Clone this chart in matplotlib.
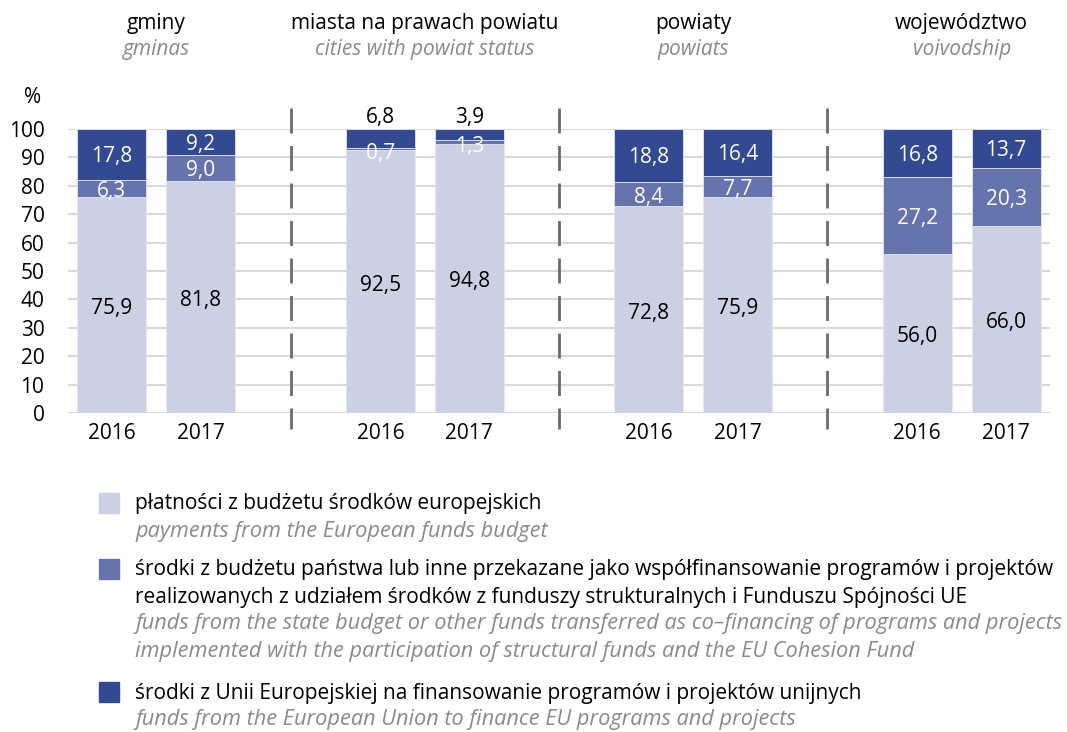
import matplotlib
matplotlib.use('Agg')
import matplotlib.pyplot as plt
from matplotlib.patches import Rectangle
from matplotlib.transforms import blended_transform_factory

plt.rcParams['font.family'] = ['Open Sans', 'DejaVu Sans']

GROUPS_PL = ['gminy', 'miasta na prawach powiatu', 'powiaty', 'województwo']
GROUPS_EN = ['gminas', 'cities with powiat status', 'powiats', 'voivodship']
YEARS = ['2016', '2017']

# shares in %, order: gminy 2016, 2017, miasta 2016, 2017, powiaty ..., wojewodztwo ...
payments_eu_budget = [75.9, 81.8, 92.5, 94.8, 72.8, 75.9, 56.0, 66.0]
state_cofinancing = [6.3, 9.0, 0.7, 1.3, 8.4, 7.7, 27.2, 20.3]
eu_funds = [17.8, 9.2, 6.8, 3.9, 18.8, 16.4, 16.8, 13.7]

LEGEND_PL = [
    ['płatności z budżetu środków europejskich'],
    ['środki z budżetu państwa lub inne przekazane jako współfinansowanie programów i projektów',
     'realizowanych z udziałem środków z funduszy strukturalnych i Funduszu Spójności UE'],
    ['środki z Unii Europejskiej na finansowanie programów i projektów unijnych'],
]
LEGEND_EN = [
    ['payments from the European funds budget'],
    ['funds from the state budget or other funds transferred as co\u2013financing of programs and projects',
     'implemented with the participation of structural funds and the EU Cohesion Fund'],
    ['funds from the European Union to finance EU programs and projects'],
]

LIGHT = '#CBD0E3'
MID = '#6674AD'
DARK = '#334A93'
COLORS = [LIGHT, MID, DARK]
GRID = '#D9D9D9'
SEP = '#6B6B6B'
SUB = '#8A8A8A'
FS = 15
FS_LEG_EN = 15.7
GROUP_STEP = 3.02
BAR_W = 0.775

W, H = 1067, 732
fig = plt.figure(figsize=(W / 100, H / 100), dpi=100)
ax = fig.add_axes([68 / W, 1 - 413 / H, (1050 - 68) / W, (413 - 129) / H])

xs = [g * GROUP_STEP + i for g in range(len(GROUPS_PL)) for i in range(len(YEARS))]

bottom = [0.0] * len(xs)
for series, color in zip([payments_eu_budget, state_cofinancing, eu_funds], COLORS):
    ax.bar(xs, series, width=BAR_W, bottom=bottom, color=color,
           edgecolor='#E4E7F0', linewidth=0.6, zorder=2)
    bottom = [b + v for b, v in zip(bottom, series)]


def fmt(v):
    return f'{v:.1f}'.replace('.', ',')


for x, lo, md, hi in zip(xs, payments_eu_budget, state_cofinancing, eu_funds):
    ax.text(x, lo / 2 - 1.2, fmt(lo), ha='center', va='center', fontsize=FS, color='black', zorder=3)
    if md < 3:
        ax.text(x, lo - 1.0, fmt(md), ha='center', va='center', fontsize=FS, color='white', zorder=3)
    else:
        ax.text(x, lo + md / 2 - 1.0, fmt(md), ha='center', va='center', fontsize=FS, color='white', zorder=3)
    if hi < 8:
        ax.text(x, 100 + 4.0, fmt(hi), ha='center', va='center', fontsize=FS, color='black', zorder=3)
    else:
        ax.text(x, lo + md + hi / 2 - 0.8, fmt(hi), ha='center', va='center', fontsize=FS, color='white', zorder=3)

ax.set_xlim(-0.494, xs[-1] + 0.494)
ax.set_ylim(0, 100)
ax.set_yticks(range(0, 101, 10))
ax.set_xticks(xs)
ax.set_xticklabels(YEARS * len(GROUPS_PL))
ax.tick_params(axis='both', length=0, labelsize=FS)
ax.tick_params(axis='y', pad=17)
ax.tick_params(axis='x', pad=7)
for lab in ax.get_yticklabels():
    lab.set_horizontalalignment('right')
ax.grid(axis='y', color=GRID, linewidth=1.5, zorder=0)
ax.set_axisbelow(True)
for s in ax.spines.values():
    s.set_visible(False)

# separators between groups
for g in range(1, len(GROUPS_PL)):
    xsep = (g - 1) * GROUP_STEP + 1 + (GROUP_STEP - 1) / 2
    ax.plot([xsep, xsep], [107.5, -5.5], color=SEP, linewidth=2.0,
            linestyle=(0, (9, 4.5)), clip_on=False, zorder=1)

ax.text(-0.89, 111.0, '%', ha='center', va='center', fontsize=FS)

# group titles
tr = blended_transform_factory(ax.transData, fig.transFigure)
for g, (pl, en) in enumerate(zip(GROUPS_PL, GROUPS_EN)):
    xc = g * GROUP_STEP + 0.5
    ax.text(xc, 1 - 23 / H, pl, transform=tr, ha='center', va='center', fontsize=FS)
    ax.text(xc, 1 - 50 / H, en, transform=tr, ha='center', va='center', fontsize=FS,
            style='italic', color=SUB)

# legend
square_tops = [493, 559, 682]
line_y = [[503, 531], [570, 597, 624, 651], [693, 720]]
for color, top, pl_lines, en_lines, ys in zip(COLORS, square_tops, LEGEND_PL, LEGEND_EN, line_y):
    fig.patches.append(Rectangle((99 / W, 1 - (top + 20) / H), 20 / W, 20 / H,
                                 transform=fig.transFigure, color=color))
    for txt, y in zip(pl_lines + en_lines, ys):
        italic = txt in en_lines
        fig.text(135 / W, 1 - y / H, txt, ha='left', va='center',
                 fontsize=FS_LEG_EN if italic else FS,
                 style='italic' if italic else 'normal', color=SUB if italic else 'black')

fig.savefig('out.png', dpi=100)
